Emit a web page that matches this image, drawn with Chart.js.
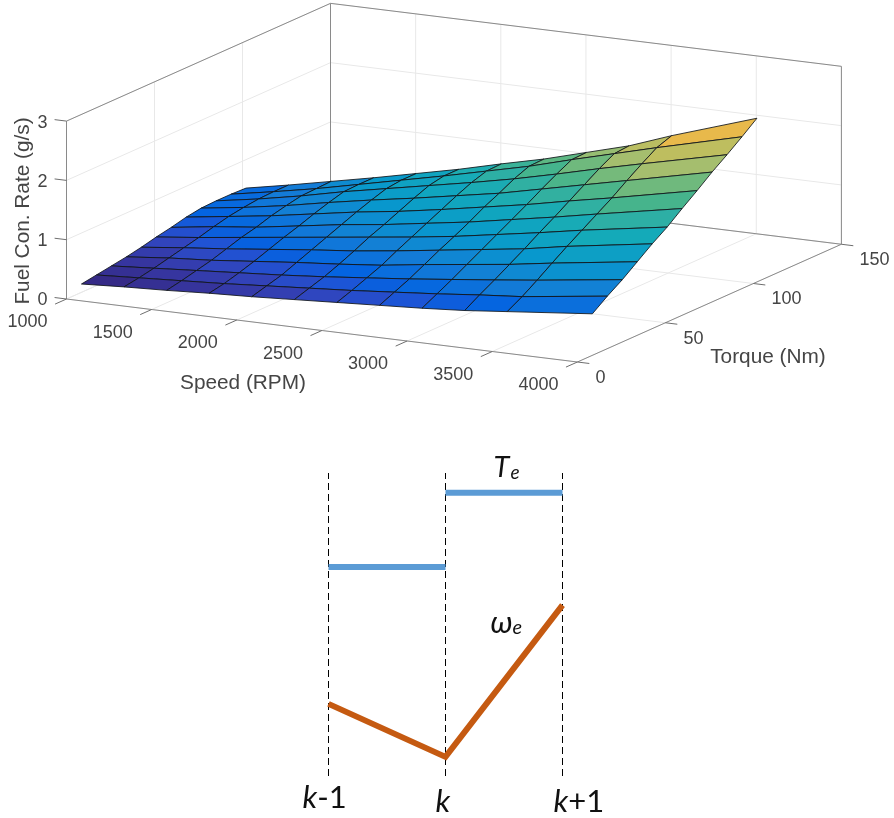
<!DOCTYPE html>
<html>
<head>
<meta charset="utf-8">
<title>Fuel consumption map</title>
<script src="https://cdn.jsdelivr.net/npm/chart.js@4"></script>
<style>
  html, body { margin: 0; padding: 0; background: #fff; }
  #page { position: relative; width: 894px; height: 818px; overflow: hidden; }
  canvas { position: absolute; left: 0; display: block; }
  #surface-chart { top: 0; }
  #steps-chart { top: 420px; }
</style>
</head>
<body>
<div id="page">
  <canvas id="surface-chart" width="894" height="420"></canvas>
  <canvas id="steps-chart" width="894" height="398"></canvas>
</div>
<script>
'use strict';

// DATA - SURFACE

let speedTicks = [1000, 1500, 2000, 2500, 3000, 3500, 4000];
let torqueTicks = [0, 50, 100, 150];
let fuelTicks = [0, 1, 2, 3];

let surfaceSpeed = [1000, 1250, 1500, 1750, 2000, 2250, 2500, 2750, 3000, 3250, 3500, 4000];
let surfaceTorque = [8.5, 17, 25.5, 34, 42.5, 51, 59.5, 68, 76.5, 85, 93.5, 102];

// one row per torque, one column per speed
let fuelRate = [
  [0.14, 0.18, 0.21, 0.25, 0.28, 0.32, 0.36, 0.40, 0.44, 0.49, 0.56, 0.70],
  [0.18, 0.22, 0.26, 0.30, 0.35, 0.40, 0.45, 0.51, 0.57, 0.64, 0.70, 0.885],
  [0.22, 0.27, 0.32, 0.37, 0.42, 0.48, 0.55, 0.62, 0.70, 0.78, 0.865, 1.05],
  [0.26, 0.33, 0.38, 0.45, 0.52, 0.58, 0.65, 0.75, 0.84, 0.93, 1.04, 1.24],
  [0.31, 0.39, 0.46, 0.54, 0.62, 0.69, 0.78, 0.88, 0.98, 1.08, 1.21, 1.43],
  [0.37, 0.45, 0.54, 0.63, 0.72, 0.81, 0.90, 1.00, 1.12, 1.24, 1.37, 1.60],
  [0.42, 0.52, 0.60, 0.71, 0.82, 0.91, 1.02, 1.13, 1.26, 1.39, 1.53, 1.80],
  [0.48, 0.58, 0.68, 0.80, 0.92, 1.02, 1.14, 1.27, 1.40, 1.55, 1.69, 1.99],
  [0.52, 0.62, 0.74, 0.88, 1.01, 1.13, 1.26, 1.39, 1.55, 1.71, 1.87, 2.19],
  [0.53, 0.65, 0.79, 0.95, 1.09, 1.23, 1.37, 1.52, 1.69, 1.87, 2.04, 2.37],
  [0.53, 0.66, 0.80, 0.96, 1.12, 1.28, 1.45, 1.62, 1.82, 2.01, 2.20, 2.56],
  [0.52, 0.66, 0.81, 0.96, 1.12, 1.28, 1.46, 1.63, 1.83, 2.03, 2.29, 2.76]
];

// DATA - STEP DIAGRAM

let stepPositions = [0, 1, 2];
let stepLabels = [['k', '-1'], ['k', ''], ['k', '+1']];
let torqueLevels = [69, 93.5];
let speedLevels = [23.8, 6.3, 56.4];

// parula as it looks in the picture: [position, r, g, b]
let parula = [
  [0, 53, 42, 135], [0.032, 54, 54, 160], [0.063, 50, 67, 186], [0.095, 32, 83, 212],
  [0.127, 3, 99, 225], [0.2, 20, 125, 214], [0.3, 8, 152, 205], [0.41, 20, 170, 185],
  [0.47, 45, 175, 165], [0.53, 70, 180, 140], [0.59, 110, 185, 125], [0.66, 165, 190, 110],
  [0.725, 190, 190, 95], [0.786, 232, 185, 75], [0.9, 250, 195, 50], [1, 249, 251, 20]
];

// 3D VIEW

// MATLAB-style orthographic view, in page pixels per data unit
let speedMin = 1000;
let torqueMin = 0;
let viewOrigin = { x: 66.5, y: 299 };
let perSpeed = { x: 0.1703, y: 0.021 };
let perTorque = { x: 1.76, y: -0.785 };
let perFuel = -59.3;

function project(speed, torque, fuel) {
  let ds = speed - speedMin;
  let dt = torque - torqueMin;
  return {
    x: viewOrigin.x + ds * perSpeed.x + dt * perTorque.x,
    y: viewOrigin.y + ds * perSpeed.y + dt * perTorque.y + fuel * perFuel
  };
}

function parulaColor(t) {
  let v = Math.min(Math.max(t, 0), 1);
  let n = 0;
  while (n < parula.length - 2 && parula[n + 1][0] < v) {
    n++;
  }
  let f = (v - parula[n][0]) / (parula[n + 1][0] - parula[n][0]);
  let rgb = [1, 2, 3].map(function (c) {
    return Math.round(parula[n][c] + (parula[n + 1][c] - parula[n][c]) * f);
  });
  return `rgb(${rgb[0]},${rgb[1]},${rgb[2]})`;
}

// SURFACE CHART DATASETS

let boxColor = '#8a8a8a';
let gridColor = '#e8e8e8';
let tickColor = '#6e6e6e';
let surfaceDatasets = [];

function addLine(from, to, color, width) {
  surfaceDatasets.push({
    data: [project(from[0], from[1], from[2]), project(to[0], to[1], to[2])],
    showLine: true,
    borderColor: color,
    borderWidth: width,
    pointRadius: 0,
    fill: false
  });
}

let speedEnd = 4000;
let torqueEnd = 150;
let fuelEnd = 3;

// grid on floor and walls
for (let s of speedTicks) {
  addLine([s, 0, 0], [s, torqueEnd, 0], gridColor, 1);
  addLine([s, torqueEnd, 0], [s, torqueEnd, fuelEnd], gridColor, 1);
}
for (let t of torqueTicks) {
  addLine([speedMin, t, 0], [speedEnd, t, 0], gridColor, 1);
  addLine([speedMin, t, 0], [speedMin, t, fuelEnd], gridColor, 1);
}
for (let z of fuelTicks) {
  addLine([speedMin, 0, z], [speedMin, torqueEnd, z], gridColor, 1);
  addLine([speedMin, torqueEnd, z], [speedEnd, torqueEnd, z], gridColor, 1);
}

// box outline
addLine([speedMin, 0, 0], [speedEnd, 0, 0], boxColor, 1);
addLine([speedEnd, 0, 0], [speedEnd, torqueEnd, 0], boxColor, 1);
addLine([speedMin, torqueEnd, 0], [speedEnd, torqueEnd, 0], boxColor, 1);
addLine([speedMin, 0, 0], [speedMin, 0, fuelEnd], boxColor, 1);
addLine([speedMin, torqueEnd, 0], [speedMin, torqueEnd, fuelEnd], boxColor, 1);
addLine([speedEnd, torqueEnd, 0], [speedEnd, torqueEnd, fuelEnd], boxColor, 1);
addLine([speedMin, 0, fuelEnd], [speedMin, torqueEnd, fuelEnd], boxColor, 1);
addLine([speedMin, torqueEnd, fuelEnd], [speedEnd, torqueEnd, fuelEnd], boxColor, 1);

// tick marks
for (let s of speedTicks) {
  addLine([s, 0, 0], [s, -6.5, 0], tickColor, 1);
}
for (let t of torqueTicks) {
  addLine([speedEnd, t, 0], [speedEnd + 70, t, 0], tickColor, 1);
}
for (let z of fuelTicks) {
  addLine([speedMin, 0, z], [speedMin - 70, 0, z], tickColor, 1);
}

// surface patches, far torque rows first. flat shading takes the first corner's value
let fuelLow = Math.min(...fuelRate.flat());
let fuelHigh = Math.max(...fuelRate.flat());

for (let i = surfaceTorque.length - 2; i >= 0; i--) {
  for (let j = 0; j < surfaceSpeed.length - 1; j++) {
    let corners = [[i, j], [i, j + 1], [i + 1, j + 1], [i + 1, j], [i, j]];
    surfaceDatasets.push({
      data: corners.map(function (c) {
        return project(surfaceSpeed[c[1]], surfaceTorque[c[0]], fuelRate[c[0]][c[1]]);
      }),
      showLine: true,
      tension: 0,
      borderColor: 'rgba(15,20,25,0.85)',
      borderWidth: 1,
      backgroundColor: parulaColor((fuelRate[i][j] - fuelLow) / (fuelHigh - fuelLow)),
      fill: 'shape',
      pointRadius: 0
    });
  }
}

// chart.js paints the first dataset last
surfaceDatasets.reverse();

// SURFACE CHART TEXT

let labelFont = '"Liberation Sans", Arial, sans-serif';
let labelColor = '#454545';

let surfaceText = {
  id: 'surfaceText',
  afterDraw: function (chart) {
    let c = chart.ctx;
    let px = function (p) {
      return { x: chart.scales.x.getPixelForValue(p.x), y: chart.scales.y.getPixelForValue(p.y) };
    };
    c.save();
    c.fillStyle = labelColor;
    c.textBaseline = 'middle';
    c.font = `18px ${labelFont}`;

    c.textAlign = 'center';
    for (let s of speedTicks) {
      let p = px(project(s, 0, 0));
      c.fillText(String(s), p.x - 39, p.y + 23.5);
    }
    c.textAlign = 'left';
    for (let t of torqueTicks) {
      let p = px(project(speedEnd, t, 0));
      c.fillText(String(t), p.x + 18, p.y + 16);
    }
    c.textAlign = 'right';
    for (let z of fuelTicks) {
      let p = px(project(speedMin, 0, z));
      c.fillText(String(z), p.x - 19, p.y + 1.5);
    }

    c.font = `20.8px ${labelFont}`;
    c.textAlign = 'center';
    c.fillText('Speed (RPM)', 243, 383);
    c.fillText('Torque (Nm)', 768, 357);
    c.translate(23, 211);
    c.rotate(-Math.PI / 2);
    c.fillText('Fuel Con. Rate (g/s)', 0, 0);
    c.restore();
  }
};

new Chart(document.getElementById('surface-chart'), {
  type: 'scatter',
  data: { datasets: surfaceDatasets },
  options: {
    responsive: false,
    animation: false,
    events: [],
    layout: { padding: 0 },
    plugins: { legend: { display: false }, tooltip: { enabled: false } },
    scales: {
      x: { display: false, min: 0, max: 894 },
      y: { display: false, min: 0, max: 420, reverse: true }
    }
  },
  plugins: [surfaceText]
});

// STEP DIAGRAM

function drawRuns(c, runs, x, y) {
  // runs are [text, font]; x is the left edge of the first one
  let cursor = x;
  for (let r of runs) {
    c.font = r[1];
    c.fillText(r[0], cursor, y);
    cursor += c.measureText(r[0]).width;
  }
}

let stepFont = 'Lato, "Open Sans", sans-serif';
let stepDatasets = [];

stepDatasets.push({
  data: [{ x: stepPositions[0], y: speedLevels[0] }, { x: stepPositions[1], y: speedLevels[1] }, { x: stepPositions[2], y: speedLevels[2] }],
  showLine: true, borderColor: '#C55A11', borderWidth: 6, borderCapStyle: 'butt', borderJoinStyle: 'miter', pointRadius: 0, clip: false
});
for (let n = 0; n < torqueLevels.length; n++) {
  stepDatasets.push({
    data: [{ x: stepPositions[n], y: torqueLevels[n] }, { x: stepPositions[n + 1], y: torqueLevels[n] }],
    showLine: true, borderColor: '#5B9BD5', borderWidth: 6, pointRadius: 0, clip: false
  });
}
for (let pos of stepPositions) {
  stepDatasets.push({
    data: [{ x: pos, y: 0 }, { x: pos, y: 100 }],
    showLine: true, borderColor: '#000', borderWidth: 1, borderDash: [7, 4], pointRadius: 0, clip: false
  });
}

let stepText = {
  id: 'stepText',
  afterDraw: function (chart) {
    let c = chart.ctx;
    let xs = chart.scales.x;
    let italic = `italic 31px ${stepFont}`;
    let plain = `31px ${stepFont}`;
    let baseTop = 420;
    c.save();
    c.fillStyle = '#111';
    c.textBaseline = 'alphabetic';
    c.textAlign = 'left';

    let leftEdge = [xs.getPixelForValue(0) - 26, xs.getPixelForValue(1) - 10, xs.getPixelForValue(2) - 9];
    let baselines = [808, 812, 812];
    for (let n = 0; n < stepLabels.length; n++) {
      drawRuns(c, [[stepLabels[n][0], italic], [stepLabels[n][1], plain]], leftEdge[n], baselines[n] - baseTop);
    }

    drawRuns(c, [['T', `italic 29px ${stepFont}`]], xs.getPixelForValue(1) + 48, 477 - baseTop);
    drawRuns(c, [['e', `italic 19px ${stepFont}`]], xs.getPixelForValue(1) + 65, 479 - baseTop);
    drawRuns(c, [['\u03C9', `italic 31px ${stepFont}`]], xs.getPixelForValue(1) + 45, 633 - baseTop);
    drawRuns(c, [['e', `italic 20px ${stepFont}`]], xs.getPixelForValue(1) + 67, 634 - baseTop);
    c.restore();
  }
};

new Chart(document.getElementById('steps-chart'), {
  type: 'scatter',
  data: { datasets: stepDatasets },
  options: {
    responsive: false,
    animation: false,
    events: [],
    layout: { padding: { left: 328.5, right: 331.5, top: 53, bottom: 42 } },
    plugins: { legend: { display: false }, tooltip: { enabled: false } },
    scales: {
      x: { display: false, min: 0, max: 2 },
      y: { display: false, min: 0, max: 100 }
    }
  },
  plugins: [stepText]
});
</script>
</body>
</html>
